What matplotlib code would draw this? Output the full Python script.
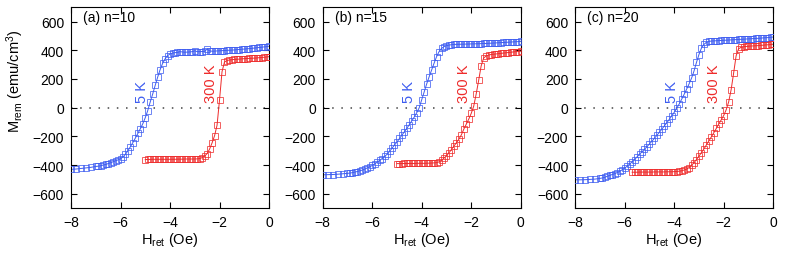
import numpy as np
import matplotlib
matplotlib.use('Agg')
import matplotlib.pyplot as plt

plt.rcParams['font.family'] = 'Liberation Sans'
plt.rcParams['mathtext.fontset'] = 'custom'
plt.rcParams['mathtext.rm'] = 'Liberation Sans'
plt.rcParams['mathtext.it'] = 'Liberation Sans:italic'
plt.rcParams['font.size'] = 8.5

# field values (Oe) for the 5 K curves, all panels
x_5k = [-8.0, -7.8, -7.6, -7.4, -7.2, -7.0,
        -6.9, -6.8, -6.7, -6.6, -6.5, -6.4, -6.3, -6.2, -6.1, -6.0,
        -5.9, -5.8, -5.7, -5.6, -5.5, -5.4, -5.3, -5.2, -5.1, -5.0,
        -4.9, -4.8, -4.7, -4.6, -4.5, -4.4, -4.3, -4.2, -4.1, -4.0,
        -3.9, -3.8, -3.7, -3.6, -3.5, -3.4, -3.3, -3.2, -3.1, -3.0,
        -2.9, -2.8, -2.7, -2.6, -2.5, -2.4, -2.3, -2.2, -2.1, -2.0,
        -1.9, -1.8, -1.7, -1.6, -1.5, -1.4, -1.3, -1.2, -1.1, -1.0,
        -0.9, -0.8, -0.7, -0.6, -0.5, -0.4, -0.3, -0.2, -0.1, 0.0]

# field values for the 300 K curves
x_300k_ab = [-5.0, -4.9, -4.8, -4.7, -4.6, -4.5, -4.4, -4.3, -4.2, -4.1,
             -4.0, -3.9, -3.8, -3.7, -3.6, -3.5, -3.4, -3.3, -3.2, -3.1,
             -3.0, -2.9, -2.8, -2.7, -2.6, -2.5, -2.4, -2.3, -2.2, -2.1,
             -2.0, -1.9, -1.8, -1.7, -1.6, -1.5, -1.4, -1.3, -1.2, -1.1,
             -1.0, -0.9, -0.8, -0.7, -0.6, -0.5, -0.4, -0.3, -0.2, -0.1, 0.0]
x_300k_c = [-5.7, -5.6, -5.5, -5.4, -5.3, -5.2, -5.1, -5.0,
            -4.9, -4.8, -4.7, -4.6, -4.5, -4.4, -4.3, -4.2, -4.1, -4.0,
            -3.9, -3.8, -3.7, -3.6, -3.5, -3.4, -3.3, -3.2, -3.1, -3.0,
            -2.9, -2.8, -2.7, -2.6, -2.5, -2.4, -2.3, -2.2, -2.1, -2.0,
            -1.9, -1.8, -1.7, -1.6, -1.5, -1.4, -1.3, -1.2, -1.1, -1.0,
            -0.9, -0.8, -0.7, -0.6, -0.5, -0.4, -0.3, -0.2, -0.1, 0.0]

# remanent magnetisation (emu/cm^3)
m_5k_a = [-430, -428, -424, -420, -416, -410,
          -408, -405, -400, -396, -390, -384, -377, -370, -364, -356,
          -343, -325, -300, -272, -243, -212, -180, -147, -112, -70,
          -20, 40, 95, 155, 212, 265, 308, 340, 362, 374,
          380, 383, 385, 390, 388, 386, 387, 388, 390, 396,
          390, 390, 391, 393, 408, 395, 393, 394, 395, 396,
          397, 398, 399, 400, 401, 402, 404, 405, 407, 408,
          410, 411, 413, 415, 417, 419, 421, 423, 425, 428]
m_300k_a = [-362, -361, -361, -360, -360, -360, -360, -360, -360, -360,
            -360, -360, -360, -359, -359, -359, -358, -358, -358, -358,
            -358, -357, -355, -348, -337, -320, -288, -245, -195, -122,
            55, 250, 318, 328, 332, 334, 336, 337, 338, 340,
            341, 342, 343, 344, 345, 346, 348, 349, 351, 353, 355]

m_5k_b = [-468, -467, -466, -464, -461, -458,
          -456, -453, -449, -445, -440, -435, -428, -420, -412, -403,
          -392, -380, -368, -355, -340, -325, -305, -283, -260, -240,
          -215, -192, -168, -144, -118, -92, -65, -35, 0, 55,
          110, 165, 215, 262, 310, 355, 390, 412, 425, 432,
          436, 438, 440, 441, 441, 442, 442, 443, 443, 444,
          444, 445, 445, 446, 447, 447, 448, 449, 450, 451,
          452, 453, 454, 455, 456, 457, 458, 459, 460, 462]
m_300k_b = [-390, -390, -390, -389, -389, -389, -389, -389, -388, -388,
            -388, -388, -387, -387, -386, -385, -383, -378, -368, -352,
            -335, -315, -292, -268, -245, -220, -190, -150, -115, -80,
            -40, 10, 95, 190, 290, 345, 360, 366, 370, 372,
            374, 376, 378, 380, 382, 384, 386, 388, 390, 391, 393]

m_5k_c = [-503, -503, -502, -500, -498, -493,
          -490, -485, -478, -472, -466, -460, -452, -443, -433, -421,
          -408, -393, -378, -362, -343, -325, -307, -290, -272, -253,
          -234, -214, -193, -172, -150, -128, -105, -82, -58, -33,
          -5, 25, 58, 92, 128, 165, 205, 255, 315, 370,
          415, 440, 455, 461, 464, 465, 466, 467, 468, 469,
          470, 471, 472, 473, 474, 475, 476, 477, 478, 479,
          480, 481, 482, 483, 484, 486, 487, 488, 490, 492]
m_300k_c = [-450, -450, -450, -449, -449, -449, -449, -449,
            -449, -448, -448, -448, -448, -448, -447, -447, -447, -446,
            -445, -443, -440, -435, -428, -418, -402, -383, -362, -338,
            -313, -288, -260, -232, -204, -175, -145, -115, -85, -55,
            -15, 40, 125, 240, 360, 410, 420, 424, 426, 428,
            429, 430, 431, 432, 434, 435, 437, 438, 440, 442]

panel_titles = ['(a) n=10', '(b) n=15', '(c) n=20']
label_5k_x = [-5.15, -4.5, -4.1]
label_300k_x = [-2.35, -2.3, -2.4]

blue = '#3d5cf0'
red = '#ee2b2b'

fig = plt.figure(figsize=(7.89, 2.55), dpi=100)
lefts = [0.090, 0.409, 0.729]
curves = [(m_5k_a, x_300k_ab, m_300k_a),
          (m_5k_b, x_300k_ab, m_300k_b),
          (m_5k_c, x_300k_c, m_300k_c)]

for i in range(3):
    ax = fig.add_axes([lefts[i], 0.180, 0.251, 0.788])
    m5, x3, m3 = curves[i]
    ax.axhline(0, color='#444444', linestyle=(0, (1, 5)), linewidth=1.1, zorder=1)
    ax.plot(x_5k, m5, '-', color=blue, linewidth=0.7, zorder=2)
    ax.plot(x_5k, m5, 's', mfc='none', mec=blue, mew=0.7, ms=4.2, alpha=0.75, zorder=3)
    ax.plot(x3, m3, '-', color=red, linewidth=0.7, zorder=2)
    ax.plot(x3, m3, 's', mfc='none', mec=red, mew=0.7, ms=4.2, alpha=0.75, zorder=3)

    ax.set_xlim(-8, 0)
    ax.set_ylim(-700, 700)
    ax.set_xticks([-8, -6, -4, -2, 0])
    ax.set_yticks([-600, -400, -200, 0, 200, 400, 600])
    ax.tick_params(direction='in', length=4, width=0.8, top=True, right=True,
                   labelsize=10, pad=5)
    for s in ax.spines.values():
        s.set_linewidth(0.8)

    ax.text(0.06, 0.95, panel_titles[i], transform=ax.transAxes,
            ha='left', va='center', fontsize=10)
    ax.text(label_5k_x[i], 40, '5 K', color=blue, rotation=90,
            ha='center', va='bottom', fontsize=10.5)
    ax.text(label_300k_x[i], 40, '300 K', color=red, rotation=90,
            ha='center', va='bottom', fontsize=10.5)
    ax.set_xlabel(r'H$_{\mathrm{ret}}$ (Oe)', fontsize=10.5, labelpad=1)

fig.text(0.019, 0.68, r'M$_{\mathrm{rem}}$ (emu/cm$^3$)', rotation=90,
         ha='center', va='center', fontsize=10.5)

plt.savefig('out.png', dpi=100)
